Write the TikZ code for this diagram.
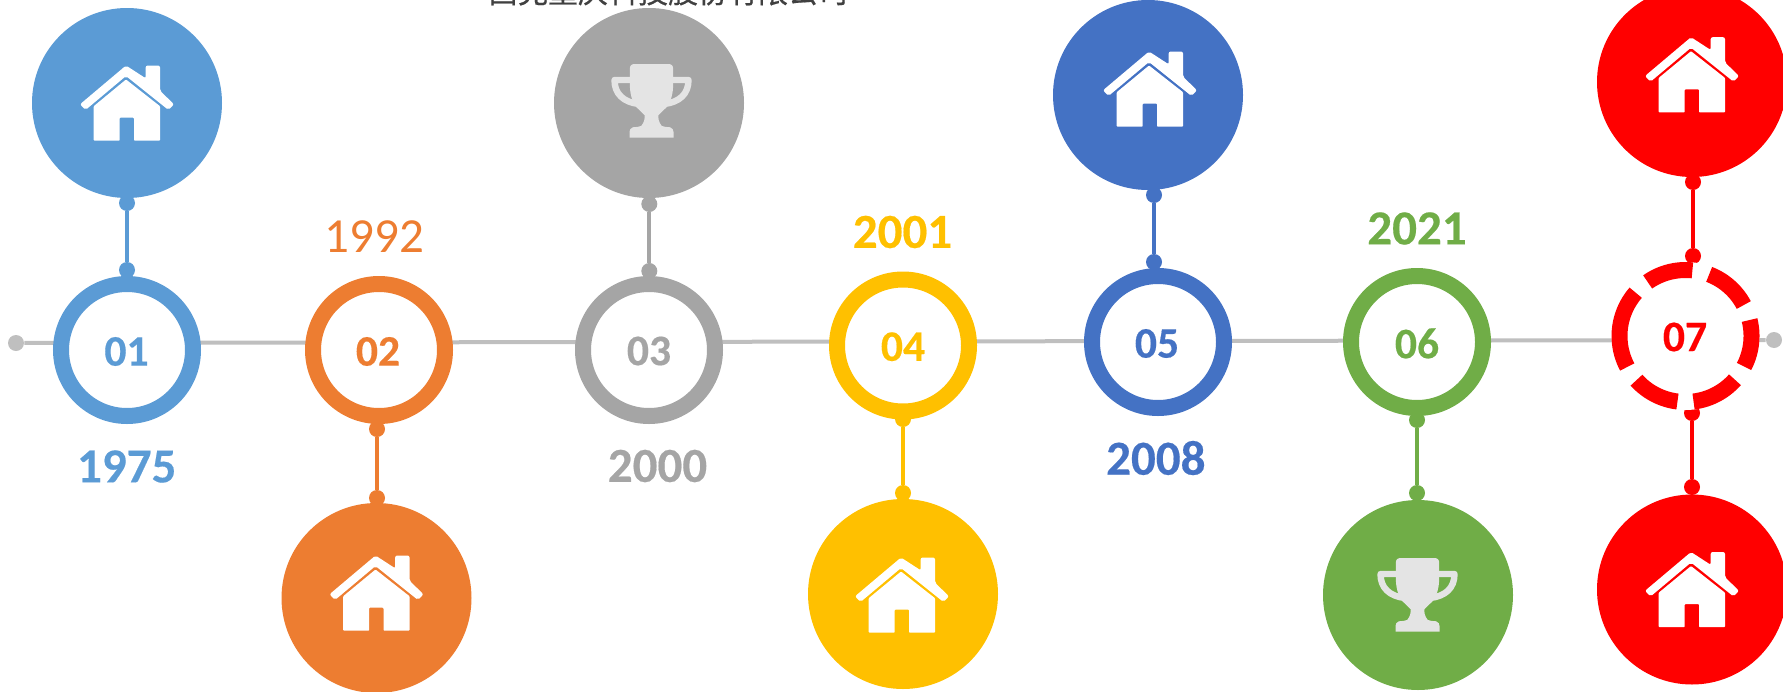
\documentclass[tikz,border=0pt]{standalone}
\usepackage{fontspec}
\setmainfont{Carlito}[BoldFont={Carlito Bold},BoldFeatures={FakeBold=0.35}]
\newfontfamily\cjk{Noto Sans CJK SC}[FakeBold=0.6]
\definecolor{cA}{HTML}{5B9BD5}
\definecolor{cB}{HTML}{ED7D31}
\definecolor{cC}{HTML}{A5A5A5}
\definecolor{cD}{HTML}{FFC000}
\definecolor{cE}{HTML}{4472C4}
\definecolor{cF}{HTML}{70AD47}
\definecolor{cG}{HTML}{FF0000}
\definecolor{cLine}{HTML}{BFBFBF}
\definecolor{cTrophy}{HTML}{E4E4E4}
\definecolor{cTitle}{HTML}{404040}
\tikzset{
  ringnode/.style={circle,draw=#1,fill=white,line width=8pt,minimum size=66pt,inner sep=0pt},
  bignode/.style={circle,fill=#1,minimum size=95pt,inner sep=0pt},
  dotnode/.style={circle,fill=#1,minimum size=8pt,inner sep=0pt},
  yearnode/.style={text=#1,inner sep=0pt,font=\fontsize{24.5}{24.5}\selectfont\bfseries},
  numnode/.style={text=#1,inner sep=0pt,font=\fontsize{21.8}{21.8}\selectfont\bfseries},
  stem/.style={draw=#1,line width=2pt},
  housepic/.pic={
    \fill[white,rounded corners=1pt] (-47,1.3) -- (-1,-37.5) -- (18.7,-24.7) -- (18.7,-37.5) -- (33,-37.5) -- (33,-12.3) -- (47,1.3) -- (41.5,7) -- (-1,-27) -- (-41.5,7) -- cycle;
    \fill[white,rounded corners=.4pt] (-1,-23.5) -- (-33.3,3.2) -- (-33.3,37.7) -- (-7.3,37.7) -- (-7.3,14.7) -- (7,14.7) -- (7,37.7) -- (33,37.7) -- (33,3.2) -- cycle;
  },
  trophypic/.pic={
    \draw[cTrophy,line width=3.2pt,line join=round,line cap=round]
      (-20,-23) -- (-37,-23) .. controls (-37,-9) and (-28,-1) .. (-13,1);
    \draw[cTrophy,line width=3.2pt,line join=round,line cap=round]
      (20,-23) -- (37,-23) .. controls (37,-9) and (28,-1) .. (13,1);
    \fill[cTrophy] (-21.7,-34) .. controls (-21.7,-37.5) and (-20,-39) .. (-16.7,-39) -- (16.7,-39)
      .. controls (20,-39) and (21.7,-37.5) .. (21.7,-34) -- (21.7,-20)
      .. controls (21.7,-8) and (19,-1) .. (15,4.3)
      -- (7,12) .. controls (6.5,15) and (7,19) .. (10.3,23)
      .. controls (13,24) and (15,24) .. (18.7,24.3)
      .. controls (21,25) and (22,27) .. (22,29) -- (22,34.7)
      -- (-22,34.7) -- (-22,29)
      .. controls (-22,27) and (-21,25) .. (-18.7,24.3)
      .. controls (-15,24) and (-13,24) .. (-10.3,23)
      .. controls (-7,19) and (-6.5,15) .. (-7,12)
      -- (-15,4.3) .. controls (-19,-1) and (-21.7,-8) .. (-21.7,-20) -- cycle;
  }
}
\begin{document}
\begin{tikzpicture}[x=.5pt,y=-.5pt]
\useasboundingbox (0,0) rectangle (1783,691);
% title, cut by the page edge
\node[text=cTitle,inner sep=0pt,anchor=base,font=\cjk\fontsize{15}{15}\selectfont] (title) at (668,3) {西克重庆科技股份有限公司};
% time line
\node[dotnode=cLine] (lineS) at (16,343) {};
\node[dotnode=cLine] (lineE) at (1774,340) {};
\draw[cLine,line width=2pt] (lineS) -- (lineE);
% big circles
\node[bignode=cA] (big1) at (127,103) {};
\node[bignode=cB] (big2) at (376.5,598) {};
\node[bignode=cC] (big3) at (649,103) {};
\node[bignode=cD] (big4) at (903,594) {};
\node[bignode=cE] (big5) at (1148,95) {};
\node[bignode=cF] (big6) at (1418,595) {};
\node[bignode=cG] (big7a) at (1692,82) {};
\node[bignode=cG] (big7b) at (1692,589.5) {};
% icons
\pic at (127,103) {housepic};
\pic at (376.5,593) {housepic};
\pic at (651.5,103) {trophypic};
\pic at (902,595) {housepic};
\pic at (1150,89) {housepic};
\pic at (1417.5,597) {trophypic};
\pic at (1692,74.7) {housepic};
\pic at (1692,589.5) {housepic};
% connectors
\node[dotnode=cA] (d1a) at (127,203) {};
\node[dotnode=cA] (d1b) at (127,270) {};
\draw[stem=cA] (d1a) -- (d1b);
\node[dotnode=cB] (d2a) at (377,429) {};
\node[dotnode=cB] (d2b) at (377,498) {};
\draw[stem=cB] (d2a) -- (d2b);
\node[dotnode=cC] (d3a) at (649.3,204) {};
\node[dotnode=cC] (d3b) at (649.3,271) {};
\draw[stem=cC] (d3a) -- (d3b);
\node[dotnode=cD] (d4a) at (903,419) {};
\node[dotnode=cD] (d4b) at (903,493) {};
\draw[stem=cD] (d4a) -- (d4b);
\node[dotnode=cE] (d5a) at (1154,195) {};
\node[dotnode=cE] (d5b) at (1154,262) {};
\draw[stem=cE] (d5a) -- (d5b);
\node[dotnode=cF] (d6a) at (1417,420) {};
\node[dotnode=cF] (d6b) at (1417,493) {};
\draw[stem=cF] (d6a) -- (d6b);
\node[dotnode=cG] (d7a) at (1693,182) {};
\node[dotnode=cG] (d7b) at (1693,256) {};
\draw[stem=cG] (d7a) -- (d7b);
\node[dotnode=cG] (d7c) at (1692,413) {};
\node[dotnode=cG] (d7d) at (1692,487) {};
\draw[stem=cG] (d7c) -- (d7d);
% rings
\node[ringnode=cA] (r1) at (127,350) {};
\node[ringnode=cB] (r2) at (379,350) {};
\node[ringnode=cC] (r3) at (649,350) {};
\node[ringnode=cD] (r4) at (903,345.5) {};
\node[ringnode=cE] (r5) at (1158,342) {};
\node[ringnode=cF] (r6) at (1417,342) {};
% dashed ring 07
\fill[white] (1685.5,336) circle[radius=37pt];
\foreach \a/\b in {125/84,69/28,14/-27.5,-41.5/-83,-97/-138,-152/-221}{
  \draw[cG,line width=8pt] plot[domain=\a:\b,samples=24,smooth] ({1685.5+66*cos(\x)},{336-66*sin(\x)});
}
% ring numbers
\node[numnode=cA] (n1) at (126.5,351.5) {01};
\node[numnode=cB] (n2) at (378,351.5) {02};
\node[numnode=cC] (n3) at (649,351) {03};
\node[numnode=cD] (n4) at (903,346.7) {04};
\node[numnode=cE] (n5) at (1157,343.5) {05};
\node[numnode=cF] (n6) at (1417,343.5) {06};
\node[numnode=cG] (n7) at (1685,337) {07};
% years
\node[yearnode=cA] (y1) at (126.7,466.5) {1975};
\node[yearnode=cB,font=\fontsize{24.5}{24.5}\selectfont] (y2) at (374.6,236.5) {1992};
\node[yearnode=cC] (y3) at (657.5,466) {2000};
\node[yearnode=cD] (y4) at (902.5,232) {2001};
\node[yearnode=cE] (y5) at (1155.8,458) {2008};
\node[yearnode=cF] (y6) at (1417,228.5) {2021};
\end{tikzpicture}
\end{document}
